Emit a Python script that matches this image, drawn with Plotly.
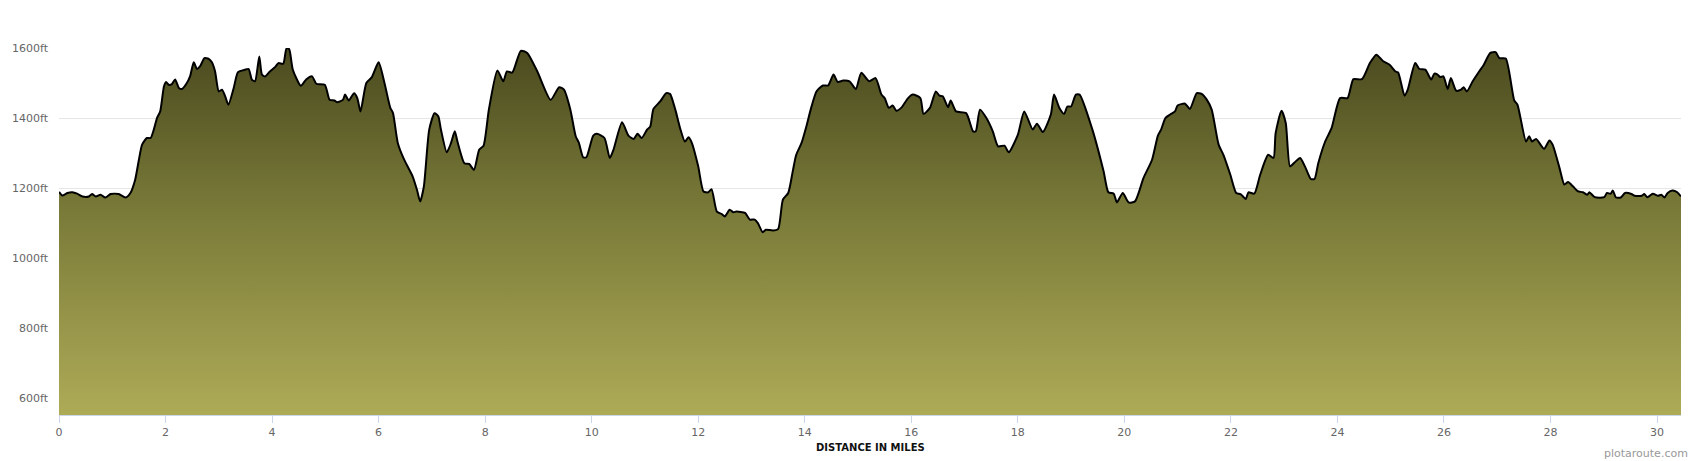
"""Elevation profile: distance in miles vs elevation in feet."""

import plotly.graph_objects as go

# distance (miles) / elevation (ft) in chunks
miles_a = [0.00, 0.06, 0.16, 0.25, 0.34, 0.44, 0.56, 0.62, 0.69, 0.78,
           0.87, 0.97, 1.12, 1.25, 1.34, 1.43, 1.50, 1.56, 1.65, 1.72,
           1.78, 1.84, 1.90, 1.97, 2.01, 2.06, 2.12, 2.18, 2.25, 2.31,
           2.40, 2.46, 2.53, 2.59, 2.65, 2.73, 2.81, 2.87, 2.93, 3.00,
           3.06, 3.12, 3.18, 3.28, 3.36, 3.49, 3.56, 3.62, 3.68, 3.76,
           3.81, 3.87, 3.96, 4.06, 4.12, 4.21]
elev_a = [1189, 1179, 1186, 1188, 1184, 1176, 1176, 1183, 1176, 1181,
          1173, 1183, 1183, 1173, 1186, 1224, 1281, 1324, 1343, 1343,
          1367, 1400, 1419, 1490, 1503, 1495, 1497, 1510, 1486, 1483,
          1500, 1519, 1559, 1540, 1548, 1571, 1569, 1559, 1533, 1476,
          1481, 1462, 1438, 1486, 1531, 1538, 1540, 1510, 1505, 1576,
          1524, 1519, 1533, 1546, 1557, 1555]

miles_b = [4.27, 4.32, 4.39, 4.54, 4.64, 4.75, 4.83, 4.99, 5.08, 5.17,
           5.22, 5.33, 5.37, 5.44, 5.54, 5.60, 5.66, 5.77, 5.87, 6.00,
           6.11, 6.22, 6.27, 6.36, 6.48, 6.64, 6.72, 6.78, 6.85, 6.95,
           7.05, 7.12, 7.17, 7.28, 7.36, 7.43, 7.48, 7.61, 7.70, 7.79,
           7.89, 7.97, 8.07, 8.23, 8.34, 8.41, 8.51, 8.67, 8.79, 8.98,
           9.23, 9.39]
elev_b = [1598, 1597, 1538, 1492, 1510, 1519, 1498, 1495, 1452, 1450,
          1445, 1452, 1467, 1450, 1471, 1457, 1419, 1500, 1516, 1559,
          1500, 1429, 1414, 1329, 1281, 1233, 1195, 1162, 1205, 1367,
          1414, 1405, 1367, 1302, 1329, 1362, 1333, 1271, 1269, 1252,
          1310, 1321, 1424, 1536, 1505, 1533, 1530, 1592, 1586, 1533,
          1452, 1488]

miles_c = [9.48, 9.60, 9.70, 9.76, 9.84, 9.90, 10.03, 10.10, 10.24, 10.34,
           10.41, 10.57, 10.69, 10.79, 10.86, 10.94, 11.04, 11.10, 11.16, 11.29,
           11.40, 11.47, 11.57, 11.66, 11.75, 11.82, 11.88, 12.00, 12.10, 12.19,
           12.25, 12.35, 12.44, 12.50, 12.59, 12.66, 12.72, 12.88, 12.97, 13.06,
           13.12, 13.21, 13.27, 13.40, 13.50, 13.59, 13.69, 13.78, 13.84, 13.94,
           14.03, 14.12, 14.22, 14.34, 14.44, 14.54, 14.62]
elev_c = [1481, 1424, 1348, 1329, 1288, 1288, 1350, 1355, 1343, 1286,
          1310, 1388, 1350, 1340, 1355, 1343, 1367, 1376, 1426, 1448,
          1471, 1469, 1424, 1371, 1333, 1345, 1329, 1262, 1190, 1188,
          1197, 1133, 1126, 1119, 1138, 1131, 1133, 1129, 1110, 1110,
          1100, 1074, 1081, 1079, 1083, 1167, 1186, 1252, 1295, 1329,
          1376, 1429, 1476, 1493, 1493, 1524, 1503]

miles_d = [14.72, 14.84, 14.96, 15.06, 15.21, 15.33, 15.44, 15.50, 15.58, 15.65,
           15.72, 15.81, 15.94, 16.03, 16.17, 16.23, 16.35, 16.46, 16.53, 16.59,
           16.69, 16.74, 16.84, 17.03, 17.16, 17.21, 17.29, 17.41, 17.53, 17.63,
           17.75, 17.83, 18.00, 18.12, 18.28, 18.36, 18.47, 18.62, 18.68, 18.78,
           18.87, 18.93, 19.00, 19.09, 19.16, 19.40, 19.61, 19.70, 19.80, 19.86]
elev_d = [1507, 1505, 1483, 1529, 1505, 1514, 1467, 1457, 1429, 1436,
          1421, 1429, 1457, 1467, 1457, 1412, 1429, 1476, 1464, 1462,
          1431, 1450, 1419, 1414, 1362, 1362, 1424, 1400, 1362, 1319,
          1321, 1302, 1352, 1419, 1367, 1384, 1360, 1410, 1467, 1429,
          1412, 1433, 1433, 1467, 1467, 1367, 1248, 1188, 1184, 1159]

miles_e = [19.97, 20.08, 20.20, 20.36, 20.52, 20.63, 20.69, 20.77, 20.86, 20.95,
           21.00, 21.14, 21.23, 21.36, 21.45, 21.55, 21.64, 21.77, 21.86, 21.99,
           22.10, 22.18, 22.28, 22.33, 22.44, 22.55, 22.70, 22.80, 22.84, 22.95,
           23.03, 23.11, 23.20, 23.30, 23.39, 23.50, 23.57, 23.64, 23.77, 23.89,
           24.05, 24.19, 24.30, 24.46, 24.61, 24.73, 24.86, 24.98, 25.09, 25.14]
elev_e = [1186, 1159, 1162, 1229, 1281, 1350, 1367, 1400, 1410, 1419,
          1436, 1441, 1426, 1471, 1469, 1452, 1424, 1324, 1295, 1238,
          1186, 1183, 1169, 1188, 1184, 1238, 1295, 1286, 1357, 1421,
          1386, 1262, 1274, 1286, 1262, 1226, 1226, 1271, 1333, 1371,
          1457, 1457, 1511, 1511, 1557, 1581, 1562, 1552, 1533, 1530]

miles_f = [25.26, 25.32, 25.46, 25.54, 25.65, 25.76, 25.82, 25.88, 25.93, 25.99,
           26.07, 26.13, 26.23, 26.32, 26.37, 26.43, 26.54, 26.66, 26.74, 26.87,
           26.97, 27.04, 27.16, 27.32, 27.38, 27.54, 27.60, 27.65, 27.73, 27.88,
           27.98, 28.04, 28.17, 28.26, 28.33, 28.42, 28.51, 28.61, 28.69, 28.73,
           28.83, 29.01, 29.06, 29.13, 29.17, 29.23, 29.32, 29.40, 29.52, 29.58,
           29.71, 29.76, 29.82, 29.92, 30.02, 30.08, 30.14, 30.20, 30.29, 30.38,
           30.45]
elev_f = [1464, 1481, 1557, 1540, 1538, 1510, 1527, 1524, 1517, 1519,
          1483, 1514, 1478, 1481, 1488, 1476, 1505, 1533, 1550, 1586,
          1588, 1571, 1570, 1450, 1438, 1333, 1348, 1333, 1340, 1312,
          1336, 1324, 1257, 1210, 1217, 1205, 1191, 1188, 1181, 1188,
          1174, 1174, 1186, 1184, 1193, 1173, 1173, 1186, 1183, 1178,
          1178, 1183, 1174, 1184, 1178, 1181, 1173, 1186, 1193, 1188,
          1176]

miles = miles_a + miles_b + miles_c + miles_d + miles_e + miles_f
elevation = elev_a + elev_b + elev_c + elev_d + elev_e + elev_f

y_ticks = [600, 800, 1000, 1200, 1400, 1600]
y_tick_labels = [f"{v}ft" for v in y_ticks]
x_ticks = list(range(0, 31, 2))

Y_MIN, Y_MAX = 552, 1600
GREY = "#666666"
FONT = "DejaVu Sans, Verdana, sans-serif"

fig = go.Figure()
fig.add_trace(go.Scatter(
    x=miles, y=elevation, mode="lines",
    line=dict(color="#000000", width=2, shape="spline", smoothing=0.6),
    fill="tozeroy",
    fillgradient=dict(
        type="vertical", start=Y_MIN, stop=Y_MAX,
        colorscale=[[0, "#aeab57"], [0.55, "#7a7b39"], [1, "#4a4a1f"]],
    ),
    hovertemplate="%{x:.2f} mi: %{y}ft<extra></extra>",
    showlegend=False,
))

fig.update_layout(
    width=1700, height=461,
    margin=dict(l=54, r=19, t=48, b=46),
    paper_bgcolor="white", plot_bgcolor="white",
    font=dict(family=FONT, color=GREY, size=11),
)
fig.update_xaxes(
    range=[0, 30.45], tickvals=x_ticks, showgrid=False, zeroline=False,
    showline=True, linecolor="#ccd6eb", linewidth=1,
    ticks="outside", ticklen=7, tickcolor="#ccd6eb",
    tickfont=dict(family=FONT, color=GREY, size=11),
)
fig.update_yaxes(
    range=[Y_MIN, Y_MAX], tickvals=y_ticks, ticktext=y_tick_labels,
    showgrid=True, gridcolor="#e6e6e6", zeroline=False, showline=False,
    ticklabelstandoff=10,
    tickfont=dict(family=FONT, color=GREY, size=11),
)

fig.add_annotation(
    text="<b>DISTANCE IN MILES</b>", xref="paper", yref="paper",
    x=0.5, y=-0.089, xanchor="center", yanchor="middle", showarrow=False,
    font=dict(family=FONT, color="#111111", size=10),
)
fig.add_annotation(
    text="plotaroute.com", xref="paper", yref="paper",
    x=1.0055, y=-0.104, xanchor="right", yanchor="middle", showarrow=False,
    font=dict(family=FONT, color="#999999", size=11),
)

# page body has a default margin; drop it so the figure sits at the corner
fig.write_html(
    "out.html",
    config={"displayModeBar": False},
    post_script="document.body.style.margin='0';",
)
